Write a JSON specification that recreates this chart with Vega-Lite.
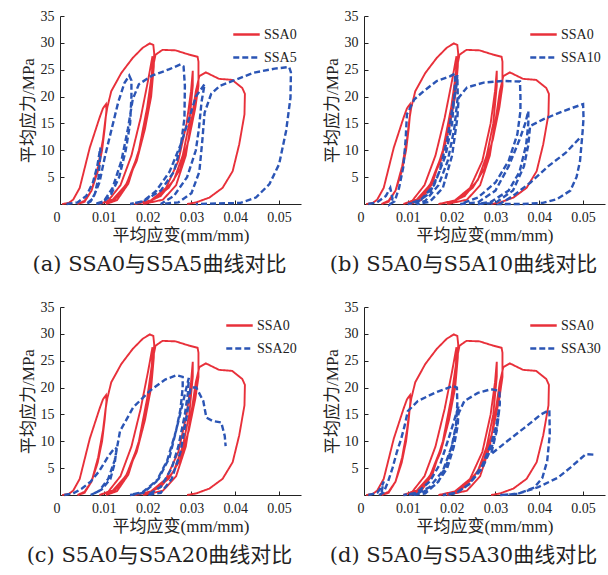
{
"$schema": "https://vega.github.io/schema/vega-lite/v6.json",
"padding": {"left": 19, "top": 9, "right": 2, "bottom": 2},
"bounds": "flush",
"columns": 2,
"spacing": {"row": 103, "column": 63},
"resolve": {"scale": {"color": "independent", "strokeDash": "independent"}, "legend": {"color": "independent", "strokeDash": "independent"}},
"datasets": {
"ssa0": [
{"s":"SSA0","x":0.0005,"y":0},{"s":"SSA0","x":0.002,"y":0.2},{"s":"SSA0","x":0.003,"y":0.8},{"s":"SSA0","x":0.0045,"y":3},{"s":"SSA0","x":0.0068,"y":10.5},{"s":"SSA0","x":0.009,"y":16},{"s":"SSA0","x":0.0098,"y":17.8},{"s":"SSA0","x":0.0105,"y":18.6},
{"s":"SSA0","x":0.0106,"y":17.5},{"s":"SSA0","x":0.0102,"y":14},{"s":"SSA0","x":0.0096,"y":10},{"s":"SSA0","x":0.0086,"y":6},{"s":"SSA0","x":0.0072,"y":2.5},{"s":"SSA0","x":0.0056,"y":0.6},{"s":"SSA0","x":0.004,"y":0},
{"s":"SSA0","x":0.0056,"y":0.4},{"s":"SSA0","x":0.0072,"y":2.5},{"s":"SSA0","x":0.0087,"y":7},{"s":"SSA0","x":0.0098,"y":12},{"s":"SSA0","x":0.0104,"y":16},{"s":"SSA0","x":0.0108,"y":18},{"s":"SSA0","x":0.0117,"y":21},{"s":"SSA0","x":0.014,"y":24.4},{"s":"SSA0","x":0.0166,"y":27.2},{"s":"SSA0","x":0.0189,"y":29.1},{"s":"SSA0","x":0.0205,"y":29.9},{"s":"SSA0","x":0.0213,"y":29.6},
{"s":"SSA0","x":0.0215,"y":28},{"s":"SSA0","x":0.0214,"y":25.5},{"s":"SSA0","x":0.0208,"y":20},{"s":"SSA0","x":0.0194,"y":14},{"s":"SSA0","x":0.0175,"y":8},{"s":"SSA0","x":0.015,"y":3.5},{"s":"SSA0","x":0.012,"y":0.8},{"s":"SSA0","x":0.009,"y":0},
{"s":"SSA0","x":0.011,"y":0.6},{"s":"SSA0","x":0.0138,"y":3.5},{"s":"SSA0","x":0.0163,"y":9},{"s":"SSA0","x":0.0184,"y":16},{"s":"SSA0","x":0.0201,"y":23},{"s":"SSA0","x":0.0211,"y":27.5},
{"s":"SSA0","x":0.0209,"y":22},{"s":"SSA0","x":0.0196,"y":15.5},{"s":"SSA0","x":0.0177,"y":9},{"s":"SSA0","x":0.0152,"y":3.8},{"s":"SSA0","x":0.0125,"y":0.8},{"s":"SSA0","x":0.0105,"y":0},
{"s":"SSA0","x":0.013,"y":0.7},{"s":"SSA0","x":0.0156,"y":3.8},{"s":"SSA0","x":0.018,"y":10},{"s":"SSA0","x":0.0199,"y":18},{"s":"SSA0","x":0.0211,"y":25},{"s":"SSA0","x":0.0218,"y":27.8},{"s":"SSA0","x":0.0234,"y":28.7},{"s":"SSA0","x":0.0264,"y":28.6},{"s":"SSA0","x":0.0295,"y":27.8},{"s":"SSA0","x":0.0314,"y":27.4},
{"s":"SSA0","x":0.0316,"y":26.5},{"s":"SSA0","x":0.0316,"y":22},{"s":"SSA0","x":0.0309,"y":18},{"s":"SSA0","x":0.0294,"y":12},{"s":"SSA0","x":0.0274,"y":6.5},{"s":"SSA0","x":0.0248,"y":3},{"s":"SSA0","x":0.021,"y":0.7},{"s":"SSA0","x":0.017,"y":0},
{"s":"SSA0","x":0.0205,"y":0.5},{"s":"SSA0","x":0.0242,"y":3},{"s":"SSA0","x":0.027,"y":8},{"s":"SSA0","x":0.0289,"y":15},{"s":"SSA0","x":0.0299,"y":21},{"s":"SSA0","x":0.0303,"y":24.8},
{"s":"SSA0","x":0.0303,"y":22},{"s":"SSA0","x":0.0295,"y":15},{"s":"SSA0","x":0.028,"y":9},{"s":"SSA0","x":0.026,"y":4.5},{"s":"SSA0","x":0.023,"y":1.5},{"s":"SSA0","x":0.019,"y":0},
{"s":"SSA0","x":0.0235,"y":0.8},{"s":"SSA0","x":0.0265,"y":3.5},{"s":"SSA0","x":0.0287,"y":9},{"s":"SSA0","x":0.0301,"y":16},{"s":"SSA0","x":0.031,"y":21},{"s":"SSA0","x":0.0318,"y":23.8},{"s":"SSA0","x":0.0333,"y":24.5},{"s":"SSA0","x":0.0363,"y":23.3},{"s":"SSA0","x":0.0393,"y":23.1},{"s":"SSA0","x":0.0416,"y":21.6},{"s":"SSA0","x":0.0422,"y":20.5},
{"s":"SSA0","x":0.0421,"y":16.7},{"s":"SSA0","x":0.0409,"y":11.1},{"s":"SSA0","x":0.0394,"y":6.1},{"s":"SSA0","x":0.0371,"y":3},{"s":"SSA0","x":0.0341,"y":1.2},{"s":"SSA0","x":0.0311,"y":0.3},{"s":"SSA0","x":0.029,"y":0}
],
"a": [
{"s":"SSA5","x":0.0015,"y":0},{"s":"SSA5","x":0.004,"y":0.3},{"s":"SSA5","x":0.006,"y":1.5},{"s":"SSA5","x":0.0075,"y":4},{"s":"SSA5","x":0.0085,"y":7},{"s":"SSA5","x":0.0092,"y":10.5},
{"s":"SSA5","x":0.0092,"y":9},{"s":"SSA5","x":0.0088,"y":5},{"s":"SSA5","x":0.008,"y":2},{"s":"SSA5","x":0.007,"y":0.5},{"s":"SSA5","x":0.006,"y":0},
{"s":"SSA5","x":0.0075,"y":1},{"s":"SSA5","x":0.009,"y":4},{"s":"SSA5","x":0.0103,"y":9},{"s":"SSA5","x":0.0118,"y":14},{"s":"SSA5","x":0.0133,"y":19},{"s":"SSA5","x":0.0147,"y":22.5},{"s":"SSA5","x":0.0158,"y":23.9},{"s":"SSA5","x":0.0163,"y":23},
{"s":"SSA5","x":0.0163,"y":20},{"s":"SSA5","x":0.016,"y":15},{"s":"SSA5","x":0.015,"y":10},{"s":"SSA5","x":0.0135,"y":5},{"s":"SSA5","x":0.0115,"y":1.5},{"s":"SSA5","x":0.0095,"y":0.2},{"s":"SSA5","x":0.008,"y":0},
{"s":"SSA5","x":0.01,"y":0.5},{"s":"SSA5","x":0.012,"y":3},{"s":"SSA5","x":0.014,"y":8},{"s":"SSA5","x":0.0155,"y":14},{"s":"SSA5","x":0.0166,"y":19.5},{"s":"SSA5","x":0.018,"y":22.3},{"s":"SSA5","x":0.021,"y":23.9},{"s":"SSA5","x":0.025,"y":25.1},{"s":"SSA5","x":0.0275,"y":26},{"s":"SSA5","x":0.0282,"y":25.6},
{"s":"SSA5","x":0.0285,"y":22},{"s":"SSA5","x":0.0284,"y":16},{"s":"SSA5","x":0.0276,"y":11},{"s":"SSA5","x":0.026,"y":6},{"s":"SSA5","x":0.023,"y":2.5},{"s":"SSA5","x":0.019,"y":0.5},{"s":"SSA5","x":0.016,"y":0},
{"s":"SSA5","x":0.019,"y":0.5},{"s":"SSA5","x":0.022,"y":2.5},{"s":"SSA5","x":0.025,"y":6},{"s":"SSA5","x":0.0275,"y":11},{"s":"SSA5","x":0.0295,"y":16},{"s":"SSA5","x":0.031,"y":20},{"s":"SSA5","x":0.033,"y":22.3},
{"s":"SSA5","x":0.0323,"y":19},{"s":"SSA5","x":0.0317,"y":14},{"s":"SSA5","x":0.031,"y":10},{"s":"SSA5","x":0.029,"y":5},{"s":"SSA5","x":0.026,"y":1.5},{"s":"SSA5","x":0.023,"y":0},
{"s":"SSA5","x":0.027,"y":0.3},{"s":"SSA5","x":0.03,"y":2},{"s":"SSA5","x":0.0318,"y":6},{"s":"SSA5","x":0.0325,"y":12},{"s":"SSA5","x":0.033,"y":17},{"s":"SSA5","x":0.0345,"y":20.5},{"s":"SSA5","x":0.0365,"y":22},{"s":"SSA5","x":0.0394,"y":22.9},{"s":"SSA5","x":0.044,"y":24.4},{"s":"SSA5","x":0.049,"y":25.2},{"s":"SSA5","x":0.0523,"y":25.5},{"s":"SSA5","x":0.0527,"y":24.5},
{"s":"SSA5","x":0.0526,"y":19.8},{"s":"SSA5","x":0.0516,"y":13.6},{"s":"SSA5","x":0.05,"y":7.4},{"s":"SSA5","x":0.0478,"y":3.7},{"s":"SSA5","x":0.0447,"y":1.2},{"s":"SSA5","x":0.0412,"y":0.2},{"s":"SSA5","x":0.031,"y":0}
],
"b": [
{"s":"SSA10","x":0.001,"y":0},{"s":"SSA10","x":0.003,"y":0.3},{"s":"SSA10","x":0.005,"y":1.5},{"s":"SSA10","x":0.006,"y":3},{"s":"SSA10","x":0.0065,"y":1},{"s":"SSA10","x":0.006,"y":0},{"s":"SSA10","x":0.007,"y":0.5},{"s":"SSA10","x":0.008,"y":3},{"s":"SSA10","x":0.009,"y":7},{"s":"SSA10","x":0.0095,"y":12},{"s":"SSA10","x":0.0098,"y":16.7},{"s":"SSA10","x":0.0115,"y":19.5},{"s":"SSA10","x":0.0136,"y":21},{"s":"SSA10","x":0.0166,"y":22.9},{"s":"SSA10","x":0.0197,"y":23.8},{"s":"SSA10","x":0.0208,"y":24.3},
{"s":"SSA10","x":0.0207,"y":21},{"s":"SSA10","x":0.0201,"y":15},{"s":"SSA10","x":0.0186,"y":9},{"s":"SSA10","x":0.016,"y":3.5},{"s":"SSA10","x":0.013,"y":0.8},{"s":"SSA10","x":0.01,"y":0},
{"s":"SSA10","x":0.012,"y":0.3},{"s":"SSA10","x":0.015,"y":2},{"s":"SSA10","x":0.0172,"y":6},{"s":"SSA10","x":0.019,"y":12},{"s":"SSA10","x":0.0204,"y":19},{"s":"SSA10","x":0.0211,"y":22},{"s":"SSA10","x":0.0213,"y":24},
{"s":"SSA10","x":0.0214,"y":20},{"s":"SSA10","x":0.0206,"y":14},{"s":"SSA10","x":0.0191,"y":8},{"s":"SSA10","x":0.017,"y":3.5},{"s":"SSA10","x":0.014,"y":0.6},{"s":"SSA10","x":0.012,"y":0},
{"s":"SSA10","x":0.015,"y":0.4},{"s":"SSA10","x":0.018,"y":3},{"s":"SSA10","x":0.0201,"y":9},{"s":"SSA10","x":0.0213,"y":16},{"s":"SSA10","x":0.0216,"y":19.8},{"s":"SSA10","x":0.0235,"y":21.7},{"s":"SSA10","x":0.0273,"y":22.6},{"s":"SSA10","x":0.0318,"y":22.9},{"s":"SSA10","x":0.0356,"y":22.8},
{"s":"SSA10","x":0.0357,"y":20},{"s":"SSA10","x":0.0357,"y":17.3},{"s":"SSA10","x":0.035,"y":13},{"s":"SSA10","x":0.033,"y":8},{"s":"SSA10","x":0.03,"y":4},{"s":"SSA10","x":0.026,"y":1.2},{"s":"SSA10","x":0.022,"y":0},
{"s":"SSA10","x":0.026,"y":0.3},{"s":"SSA10","x":0.03,"y":2.5},{"s":"SSA10","x":0.033,"y":7},{"s":"SSA10","x":0.0355,"y":12},{"s":"SSA10","x":0.0368,"y":15},{"s":"SSA10","x":0.0375,"y":17.3},
{"s":"SSA10","x":0.0375,"y":15},{"s":"SSA10","x":0.037,"y":11},{"s":"SSA10","x":0.0355,"y":6},{"s":"SSA10","x":0.033,"y":2.5},{"s":"SSA10","x":0.029,"y":0.4},{"s":"SSA10","x":0.026,"y":0},
{"s":"SSA10","x":0.03,"y":0.2},{"s":"SSA10","x":0.034,"y":2.5},{"s":"SSA10","x":0.0365,"y":7},{"s":"SSA10","x":0.0375,"y":11},{"s":"SSA10","x":0.0379,"y":14.5},{"s":"SSA10","x":0.041,"y":15.8},{"s":"SSA10","x":0.0455,"y":17.3},{"s":"SSA10","x":0.05,"y":18.6},
{"s":"SSA10","x":0.0501,"y":16},{"s":"SSA10","x":0.0499,"y":13.6},{"s":"SSA10","x":0.0493,"y":8},{"s":"SSA10","x":0.0485,"y":5},{"s":"SSA10","x":0.0471,"y":2.5},{"s":"SSA10","x":0.044,"y":0.9},{"s":"SSA10","x":0.0408,"y":0.2},{"s":"SSA10","x":0.036,"y":0},
{"s":"SSA10","x":0.031,"y":0},{"s":"SSA10","x":0.034,"y":1.5},{"s":"SSA10","x":0.038,"y":4},{"s":"SSA10","x":0.042,"y":7},{"s":"SSA10","x":0.046,"y":9.5},{"s":"SSA10","x":0.0495,"y":12.5}
],
"c": [
{"s":"SSA20","x":0.001,"y":0},{"s":"SSA20","x":0.003,"y":0.3},{"s":"SSA20","x":0.005,"y":1.2},{"s":"SSA20","x":0.007,"y":2.5},{"s":"SSA20","x":0.009,"y":4.5},{"s":"SSA20","x":0.011,"y":7.2},{"s":"SSA20","x":0.0125,"y":8.8},{"s":"SSA20","x":0.0129,"y":8.6},
{"s":"SSA20","x":0.0125,"y":6},{"s":"SSA20","x":0.0115,"y":3},{"s":"SSA20","x":0.0095,"y":1},{"s":"SSA20","x":0.007,"y":0},
{"s":"SSA20","x":0.009,"y":0.8},{"s":"SSA20","x":0.011,"y":3},{"s":"SSA20","x":0.0125,"y":6.5},{"s":"SSA20","x":0.0137,"y":11.9},{"s":"SSA20","x":0.0167,"y":16.3},{"s":"SSA20","x":0.0205,"y":19.4},{"s":"SSA20","x":0.024,"y":21.5},{"s":"SSA20","x":0.0266,"y":22.3},{"s":"SSA20","x":0.028,"y":22},
{"s":"SSA20","x":0.028,"y":20},{"s":"SSA20","x":0.0275,"y":16},{"s":"SSA20","x":0.0265,"y":12},{"s":"SSA20","x":0.025,"y":7},{"s":"SSA20","x":0.0225,"y":3},{"s":"SSA20","x":0.019,"y":0.6},{"s":"SSA20","x":0.016,"y":0},
{"s":"SSA20","x":0.019,"y":0.4},{"s":"SSA20","x":0.022,"y":2.5},{"s":"SSA20","x":0.0245,"y":6.5},{"s":"SSA20","x":0.0265,"y":12},{"s":"SSA20","x":0.028,"y":17},{"s":"SSA20","x":0.029,"y":20.5},{"s":"SSA20","x":0.0294,"y":21.8},
{"s":"SSA20","x":0.0292,"y":19},{"s":"SSA20","x":0.0285,"y":15},{"s":"SSA20","x":0.027,"y":9},{"s":"SSA20","x":0.0255,"y":5},{"s":"SSA20","x":0.023,"y":1.5},{"s":"SSA20","x":0.02,"y":0},
{"s":"SSA20","x":0.023,"y":0.4},{"s":"SSA20","x":0.0255,"y":3},{"s":"SSA20","x":0.0275,"y":8},{"s":"SSA20","x":0.029,"y":15},{"s":"SSA20","x":0.0298,"y":20},{"s":"SSA20","x":0.0311,"y":20},{"s":"SSA20","x":0.0327,"y":17.5},{"s":"SSA20","x":0.0334,"y":14.4},{"s":"SSA20","x":0.0348,"y":13.8},{"s":"SSA20","x":0.0368,"y":13.5},{"s":"SSA20","x":0.0376,"y":11},{"s":"SSA20","x":0.0378,"y":9.1}
],
"d": [
{"s":"SSA30","x":0.001,"y":0},{"s":"SSA30","x":0.003,"y":0.4},{"s":"SSA30","x":0.004,"y":1.5},{"s":"SSA30","x":0.0045,"y":2.5},{"s":"SSA30","x":0.004,"y":0.5},{"s":"SSA30","x":0.0035,"y":0},{"s":"SSA30","x":0.0045,"y":0.5},{"s":"SSA30","x":0.0055,"y":2.5},{"s":"SSA30","x":0.0065,"y":5},{"s":"SSA30","x":0.0075,"y":8},{"s":"SSA30","x":0.0085,"y":10.5},{"s":"SSA30","x":0.0093,"y":13},{"s":"SSA30","x":0.01,"y":15.6},{"s":"SSA30","x":0.0123,"y":17.5},{"s":"SSA30","x":0.0161,"y":19},{"s":"SSA30","x":0.0203,"y":20.3},{"s":"SSA30","x":0.0212,"y":20},
{"s":"SSA30","x":0.0213,"y":17},{"s":"SSA30","x":0.021,"y":13},{"s":"SSA30","x":0.02,"y":9},{"s":"SSA30","x":0.018,"y":4.5},{"s":"SSA30","x":0.015,"y":1.5},{"s":"SSA30","x":0.012,"y":0.2},{"s":"SSA30","x":0.009,"y":0},
{"s":"SSA30","x":0.012,"y":0.4},{"s":"SSA30","x":0.015,"y":2.5},{"s":"SSA30","x":0.0175,"y":6},{"s":"SSA30","x":0.0195,"y":11},{"s":"SSA30","x":0.021,"y":15},{"s":"SSA30","x":0.0216,"y":16.5},
{"s":"SSA30","x":0.0214,"y":13},{"s":"SSA30","x":0.0205,"y":9},{"s":"SSA30","x":0.019,"y":5},{"s":"SSA30","x":0.0165,"y":2},{"s":"SSA30","x":0.013,"y":0.3},{"s":"SSA30","x":0.011,"y":0},
{"s":"SSA30","x":0.014,"y":0.3},{"s":"SSA30","x":0.017,"y":2.5},{"s":"SSA30","x":0.019,"y":6},{"s":"SSA30","x":0.0205,"y":10.5},{"s":"SSA30","x":0.0216,"y":15.2},{"s":"SSA30","x":0.0229,"y":17.5},{"s":"SSA30","x":0.026,"y":19},{"s":"SSA30","x":0.029,"y":19.7},{"s":"SSA30","x":0.0309,"y":19.4},
{"s":"SSA30","x":0.031,"y":17},{"s":"SSA30","x":0.0305,"y":13.3},{"s":"SSA30","x":0.0292,"y":9},{"s":"SSA30","x":0.027,"y":5},{"s":"SSA30","x":0.024,"y":2},{"s":"SSA30","x":0.021,"y":0.4},{"s":"SSA30","x":0.018,"y":0},
{"s":"SSA30","x":0.021,"y":0.3},{"s":"SSA30","x":0.024,"y":2},{"s":"SSA30","x":0.027,"y":5.5},{"s":"SSA30","x":0.029,"y":9.5},{"s":"SSA30","x":0.0302,"y":13},{"s":"SSA30","x":0.0308,"y":16},
{"s":"SSA30","x":0.0303,"y":12},{"s":"SSA30","x":0.029,"y":7.6},{"s":"SSA30","x":0.0328,"y":10.1},{"s":"SSA30","x":0.0366,"y":12.5},{"s":"SSA30","x":0.0404,"y":15},{"s":"SSA30","x":0.0423,"y":15.8},
{"s":"SSA30","x":0.0424,"y":11.3},{"s":"SSA30","x":0.0418,"y":6.3},{"s":"SSA30","x":0.0407,"y":3.2},{"s":"SSA30","x":0.0389,"y":1.4},{"s":"SSA30","x":0.0351,"y":0.2},{"s":"SSA30","x":0.031,"y":0},
{"s":"SSA30","x":0.035,"y":0.2},{"s":"SSA30","x":0.0396,"y":1.4},{"s":"SSA30","x":0.0442,"y":3.2},{"s":"SSA30","x":0.0471,"y":5.1},{"s":"SSA30","x":0.0506,"y":7.6},{"s":"SSA30","x":0.0529,"y":7.5}
]
},
"concat": [
{"width": 241, "height": 188, "title": "(a) SSA0与S5A5曲线对比",
 "encoding": {
  "x": {"field": "x", "type": "quantitative", "scale": {"domain": [0, 0.055], "nice": false}, "axis": {"title": "平均应变(mm/mm)", "values": [0,0.01,0.02,0.03,0.04,0.05], "format": ".2~f", "labelAlign": {"condition": {"test": "datum.value == 0", "value": "right"}, "value": "center"}}},
  "y": {"field": "y", "type": "quantitative", "scale": {"domain": [0, 35], "nice": false}, "axis": {"title": "平均应力/MPa", "values": [5,10,15,20,25,30,35]}},
  "color": {"field": "s", "type": "nominal", "scale": {"domain": ["SSA0","SSA5"], "range": ["#e8303a","#2b55b5"]}, "legend": {"title": null}},
  "strokeDash": {"field": "s", "type": "nominal", "scale": {"domain": ["SSA0","SSA5"], "range": [[1,0],[6,3]]}, "legend": {"title": null}},
  "order": {"value": null}
 },
 "layer": [
  {"data": {"name": "ssa0"}, "mark": {"type": "line", "strokeWidth": 1.9}},
  {"data": {"name": "a"}, "mark": {"type": "line", "strokeWidth": 2.4}}
 ]},
{"width": 241, "height": 188, "title": "(b) S5A0与S5A10曲线对比",
 "encoding": {
  "x": {"field": "x", "type": "quantitative", "scale": {"domain": [0, 0.055], "nice": false}, "axis": {"title": "平均应变(mm/mm)", "values": [0,0.01,0.02,0.03,0.04,0.05], "format": ".2~f", "labelAlign": {"condition": {"test": "datum.value == 0", "value": "right"}, "value": "center"}}},
  "y": {"field": "y", "type": "quantitative", "scale": {"domain": [0, 35], "nice": false}, "axis": {"title": "平均应力/MPa", "values": [5,10,15,20,25,30,35]}},
  "color": {"field": "s", "type": "nominal", "scale": {"domain": ["SSA0","SSA10"], "range": ["#e8303a","#2b55b5"]}, "legend": {"title": null}},
  "strokeDash": {"field": "s", "type": "nominal", "scale": {"domain": ["SSA0","SSA10"], "range": [[1,0],[6,3]]}, "legend": {"title": null}},
  "order": {"value": null}
 },
 "layer": [
  {"data": {"name": "ssa0"}, "mark": {"type": "line", "strokeWidth": 1.9}},
  {"data": {"name": "b"}, "mark": {"type": "line", "strokeWidth": 2.4}}
 ]},
{"width": 241, "height": 188, "title": "(c) S5A0与S5A20曲线对比",
 "encoding": {
  "x": {"field": "x", "type": "quantitative", "scale": {"domain": [0, 0.055], "nice": false}, "axis": {"title": "平均应变(mm/mm)", "values": [0,0.01,0.02,0.03,0.04,0.05], "format": ".2~f", "labelAlign": {"condition": {"test": "datum.value == 0", "value": "right"}, "value": "center"}}},
  "y": {"field": "y", "type": "quantitative", "scale": {"domain": [0, 35], "nice": false}, "axis": {"title": "平均应力/MPa", "values": [5,10,15,20,25,30,35]}},
  "color": {"field": "s", "type": "nominal", "scale": {"domain": ["SSA0","SSA20"], "range": ["#e8303a","#2b55b5"]}, "legend": {"title": null}},
  "strokeDash": {"field": "s", "type": "nominal", "scale": {"domain": ["SSA0","SSA20"], "range": [[1,0],[6,3]]}, "legend": {"title": null}},
  "order": {"value": null}
 },
 "layer": [
  {"data": {"name": "ssa0"}, "mark": {"type": "line", "strokeWidth": 1.9}},
  {"data": {"name": "c"}, "mark": {"type": "line", "strokeWidth": 2.4}}
 ]},
{"width": 241, "height": 188, "title": "(d) S5A0与S5A30曲线对比",
 "encoding": {
  "x": {"field": "x", "type": "quantitative", "scale": {"domain": [0, 0.055], "nice": false}, "axis": {"title": "平均应变(mm/mm)", "values": [0,0.01,0.02,0.03,0.04,0.05], "format": ".2~f", "labelAlign": {"condition": {"test": "datum.value == 0", "value": "right"}, "value": "center"}}},
  "y": {"field": "y", "type": "quantitative", "scale": {"domain": [0, 35], "nice": false}, "axis": {"title": "平均应力/MPa", "values": [5,10,15,20,25,30,35]}},
  "color": {"field": "s", "type": "nominal", "scale": {"domain": ["SSA0","SSA30"], "range": ["#e8303a","#2b55b5"]}, "legend": {"title": null}},
  "strokeDash": {"field": "s", "type": "nominal", "scale": {"domain": ["SSA0","SSA30"], "range": [[1,0],[6,3]]}, "legend": {"title": null}},
  "order": {"value": null}
 },
 "layer": [
  {"data": {"name": "ssa0"}, "mark": {"type": "line", "strokeWidth": 1.9}},
  {"data": {"name": "d"}, "mark": {"type": "line", "strokeWidth": 2.4}}
 ]}
],
"config": {
 "view": {"stroke": null},
 "axis": {"grid": false, "domainColor": "#222", "domainWidth": 1, "tickColor": "#222", "tickSize": -4, "labelPadding": 10, "labelFont": "Liberation Serif, Times New Roman, serif", "labelFontSize": 14, "labelColor": "#222", "titleFont": "Liberation Serif, Noto Sans CJK SC", "titleFontSize": 17, "titleFontWeight": "normal", "titleColor": "#222", "titlePadding": 3},
 "legend": {"orient": "top-right", "offset": 4, "labelFont": "Liberation Serif, Times New Roman, serif", "labelFontSize": 14, "labelColor": "#222", "symbolType": "stroke", "symbolSize": 700, "symbolStrokeWidth": 2.4, "rowPadding": 1, "padding": 0, "labelOffset": 3},
 "title": {"orient": "bottom", "font": "DejaVu Serif, Noto Sans CJK SC", "fontSize": 21, "fontWeight": "normal", "color": "#222", "offset": 11, "dx": -21}
}
}
